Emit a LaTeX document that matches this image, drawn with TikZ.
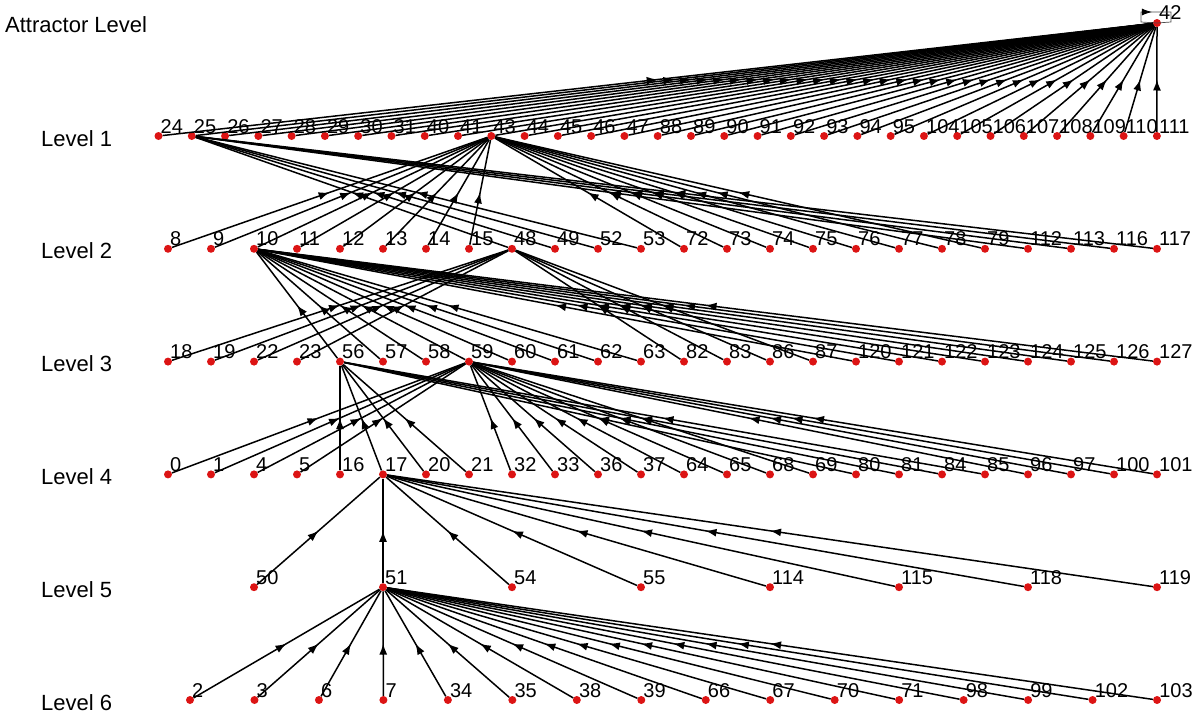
\documentclass[tikz,border=0pt]{standalone}
\usepackage{fontspec}
\setmainfont{Liberation Sans}
\usetikzlibrary{
  arrows.meta,
  decorations.markings
}
\definecolor{dotred}{RGB}{220,20,20}

\begin{document}
\begin{tikzpicture}[
  x=1pt, y=-1pt, >=Latex,
  state/.style={circle, fill=dotred, inner sep=0pt, minimum size=8pt},
  num/.style={anchor=base west, inner sep=0pt, font=\fontsize{20}{20}\selectfont},
  lvl/.style={anchor=base west, inner sep=0pt, font=\fontsize{22}{22}\selectfont},
  trans/.style={line width=1.5pt, postaction={decorate},
    decoration={markings, mark=at position .5 with {\arrow{Latex[length=11pt,width=8pt]}}}},
  selfloop/.style={line width=.7pt, black!70, postaction={decorate},
    decoration={markings, mark=at position .46 with {\arrow[black]{Latex[length=10pt,width=7pt]}}}},
]
\useasboundingbox (0,0) rectangle (1200,725);

% level names
\node[lvl] (lvA) at (5,33) {Attractor Level};
\foreach \k in {1,...,6}
  \node[lvl] (lv\k) at (41,{146+112.8*(\k-1)}) {Level \k};

% attractor
\node[state] (n42) at (1157,23) {};
\node[num] (t42) at (1159,20) {42};
\draw[selfloop] (n42.center) -- (1141,22) -- (1141,12) -- (1171,12) -- (1171,22) -- (n42.center);

% states, level by level
\foreach \s [count=\i from 0] in {24,25,26,27,28,29,30,31,40,41,43,44,45,46,47,88,89,90,91,92,93,94,95,104,105,106,107,108,109,110,111} {
  \node[state] (n\s) at ({158.5+33.28*\i},136) {};
  \node[num] (t\s) at ({160.5+33.28*\i},133) {\s};
}
\foreach \s [count=\i from 0] in {8,9,10,11,12,13,14,15,48,49,52,53,72,73,74,75,76,77,78,79,112,113,116,117} {
  \node[state] (n\s) at ({168+43*\i},248.8) {};
  \node[num] (t\s) at ({170+43*\i},245.8) {\s};
}
\foreach \s [count=\i from 0] in {18,19,22,23,56,57,58,59,60,61,62,63,82,83,86,87,120,121,122,123,124,125,126,127} {
  \node[state] (n\s) at ({168+43*\i},361.6) {};
  \node[num] (t\s) at ({170+43*\i},358.6) {\s};
}
\foreach \s [count=\i from 0] in {0,1,4,5,16,17,20,21,32,33,36,37,64,65,68,69,80,81,84,85,96,97,100,101} {
  \node[state] (n\s) at ({168+43*\i},474.4) {};
  \node[num] (t\s) at ({170+43*\i},471.4) {\s};
}
\foreach \s [count=\i from 0] in {50,51,54,55,114,115,118,119} {
  \node[state] (n\s) at ({254+129*\i},587.2) {};
  \node[num] (t\s) at ({256+129*\i},584.2) {\s};
}
\foreach \s [count=\i from 0] in {2,3,6,7,34,35,38,39,66,67,70,71,98,99,102,103} {
  \node[state] (n\s) at ({190+64.47*\i},700) {};
  \node[num] (t\s) at ({192+64.47*\i},697) {\s};
}

% transitions
\foreach \s in {24,25,26,27,28,29,30,31,40,41,43,44,45,46,47,88,89,90,91,92,93,94,95,104,105,106,107,108,109,110,111}
  \draw[trans] (n\s) -- (n42);
\foreach \s in {8,9,10,11,12,13,14,15,72,73,74,75,76,77,78,79}
  \draw[trans] (n\s) -- (n43);
\foreach \s in {48,49,52,53,112,113,116,117}
  \draw[trans] (n\s) -- (n25);
\foreach \s in {56,57,58,59,60,61,62,63,120,121,122,123,124,125,126,127}
  \draw[trans] (n\s) -- (n10);
\foreach \s in {18,19,22,23,82,83,86,87}
  \draw[trans] (n\s) -- (n48);
\foreach \s in {16,17,20,21,80,81,84,85}
  \draw[trans] (n\s) -- (n56);
\foreach \s in {0,1,4,5,32,33,36,37,64,65,68,69,96,97,100,101}
  \draw[trans] (n\s) -- (n59);
\foreach \s in {50,51,54,55,114,115,118,119}
  \draw[trans] (n\s) -- (n17);
\foreach \s in {2,3,6,7,34,35,38,39,66,67,70,71,98,99,102,103}
  \draw[trans] (n\s) -- (n51);
\end{tikzpicture}
\end{document}
